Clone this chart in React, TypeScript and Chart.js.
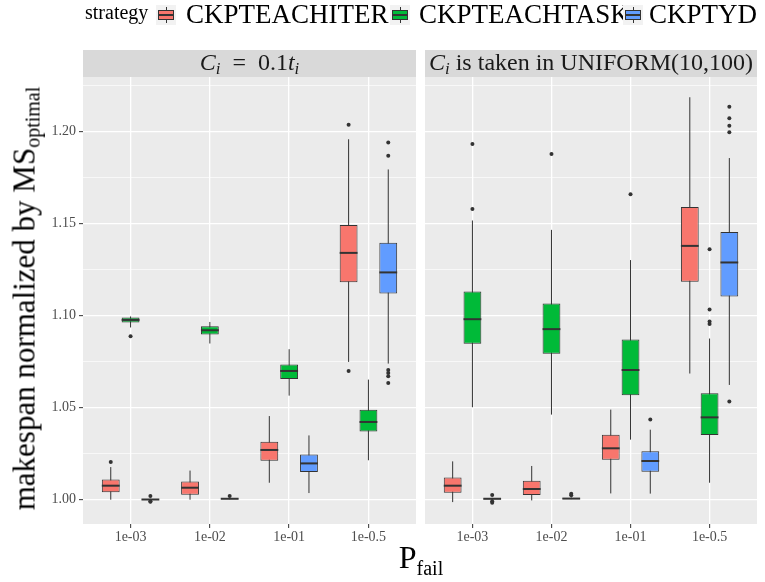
import React, { useEffect, useRef } from 'react';
import { Chart, registerables } from 'chart.js';

Chart.register(...registerables);

// ---------- data ----------
const CATEGORIES = ['1e-03', '1e-02', '1e-01', '1e-0.5'];
const STRATEGIES = ['CKPTEACHITER', 'CKPTEACHTASK', 'CKPTYD'];
const COLORS = ['#F8766D', '#00BA38', '#619CFF'];
const Y_TICKS = [1.0, 1.025, 1.05, 1.075, 1.1, 1.125, 1.15, 1.175, 1.2, 1.225];
const Y_MIN = 0.9868;
const Y_MAX = 1.2295;
const PANEL_TITLES = ['C_i = 0.1t_i', 'C_i is taken in UNIFORM(10,100)'];

// box stats per category: [lower whisker, Q1, median, Q3, upper whisker]
const A_ITER = [
  [1.0, 1.004, 1.0076, 1.0109, 1.0177],
  [1.0, 1.0027, 1.0065, 1.0099, 1.0158],
  [1.0092, 1.0212, 1.027, 1.0315, 1.0454],
  [1.0748, 1.1181, 1.134, 1.1492, 1.1957],
];
const A_TASK = [
  [1.0935, 1.0962, 1.0976, 1.0989, 1.0995],
  [1.0848, 1.0897, 1.092, 1.0942, 1.0965],
  [1.0565, 1.0655, 1.0699, 1.0734, 1.0817],
  [1.0214, 1.037, 1.0422, 1.0489, 1.0652],
];
const A_YD = [
  [0.9999, 1.0, 1.0001, 1.0003, 1.0005],
  [1.0002, 1.0003, 1.0005, 1.0007, 1.001],
  [1.0036, 1.015, 1.0197, 1.0246, 1.0349],
  [1.0739, 1.112, 1.1234, 1.1395, 1.1793],
];
const A_ITER_OUT = [[1.0204], [], [], [1.2036, 1.0699]];
const A_TASK_OUT = [[1.0888], [], [], []];
const A_YD_OUT = [[1.002, 0.9992, 0.9989], [1.002], [], [1.194, 1.1867, 1.0704, 1.0688, 1.067, 1.0634]];

const B_ITER = [
  [0.9987, 1.0038, 1.0076, 1.012, 1.0208],
  [0.9996, 1.0025, 1.0058, 1.0103, 1.0183],
  [1.0034, 1.0217, 1.0279, 1.0353, 1.0489],
  [1.0685, 1.1183, 1.1378, 1.1589, 1.2185],
];
const B_TASK = [
  [1.0502, 1.0846, 1.098, 1.113, 1.1516],
  [1.0462, 1.0793, 1.0926, 1.1065, 1.1465],
  [1.0326, 1.0567, 1.0704, 1.087, 1.1301],
  [1.0092, 1.0351, 1.0447, 1.0578, 1.0875],
];
const B_YD = [
  [0.9998, 1.0001, 1.0005, 1.0007, 1.001],
  [1.0003, 1.0004, 1.0006, 1.0008, 1.0012],
  [1.0033, 1.0152, 1.021, 1.0263, 1.038],
  [1.0623, 1.1103, 1.1288, 1.1453, 1.1855],
];
const B_ITER_OUT = [[], [], [], []];
const B_TASK_OUT = [[1.1931, 1.1578], [1.1877], [1.1659], [1.136, 1.1033, 1.0968, 1.0954]];
const B_YD_OUT = [[1.0025, 0.9984, 0.9992], [1.0032, 1.0024], [1.0436], [1.2134, 1.2071, 1.203, 1.1995, 1.0533]];

// ---------- helpers ----------
const FONT = "'Liberation Serif', 'Times New Roman', serif";
const isMajor = (v: number) => Math.round(v * 1000) % 50 === 0;

function buildDatasets(boxes: number[][][], outs: number[][][]) {
  return STRATEGIES.map((name, s) => ({
    label: name,
    data: boxes[s].map((b, i) => ({ x: i + 1, y: [b[1], b[3]], stats: b, out: outs[s][i] })),
    backgroundColor: COLORS[s],
    borderColor: '#333333',
    borderWidth: 1,
    borderSkipped: false,
    categoryPercentage: 0.75,
    barPercentage: 0.9,
  }));
}

const boxPlugin = {
  id: 'boxExtras',
  beforeDraw(chart: any) {
    const { ctx, chartArea: a } = chart;
    ctx.save();
    ctx.fillStyle = '#EBEBEB';
    ctx.fillRect(a.left, a.top, a.right - a.left, a.bottom - a.top);
    ctx.restore();
  },
  beforeDatasetsDraw(chart: any) {
    const { ctx } = chart;
    const ys = chart.scales.y;
    ctx.save();
    ctx.strokeStyle = '#333333';
    ctx.lineWidth = 1;
    chart.data.datasets.forEach((ds: any, i: number) => {
      const meta = chart.getDatasetMeta(i);
      meta.data.forEach((el: any, j: number) => {
        const st = ds.data[j].stats;
        ctx.beginPath();
        ctx.moveTo(el.x, ys.getPixelForValue(st[0]));
        ctx.lineTo(el.x, ys.getPixelForValue(st[4]));
        ctx.stroke();
      });
    });
    ctx.restore();
  },
  afterDatasetsDraw(chart: any) {
    const { ctx } = chart;
    const ys = chart.scales.y;
    ctx.save();
    chart.data.datasets.forEach((ds: any, i: number) => {
      const meta = chart.getDatasetMeta(i);
      meta.data.forEach((el: any, j: number) => {
        const st = ds.data[j].stats;
        const w = el.width;
        const ym = ys.getPixelForValue(st[2]);
        ctx.strokeStyle = '#333333';
        ctx.lineWidth = 2;
        ctx.beginPath();
        ctx.moveTo(el.x - w / 2, ym);
        ctx.lineTo(el.x + w / 2, ym);
        ctx.stroke();
        ctx.fillStyle = '#333333';
        (ds.data[j].out || []).forEach((o: number) => {
          ctx.beginPath();
          ctx.arc(el.x, ys.getPixelForValue(o), 2, 0, Math.PI * 2);
          ctx.fill();
        });
      });
    });
    ctx.restore();
  },
};

type PanelProps = {
  left: number;
  width: number;
  padLeft: number;
  padRight: number;
  yWidth: number;
  showY: boolean;
  boxes: number[][][];
  outs: number[][][];
};

function Panel({ left, width, padLeft, padRight, yWidth, showY, boxes, outs }: PanelProps) {
  const ref = useRef<HTMLCanvasElement>(null);
  useEffect(() => {
    if (!ref.current) return;
    const chart = new Chart(ref.current, {
      type: 'bar',
      data: { datasets: buildDatasets(boxes, outs) as any },
      options: {
        animation: false,
        responsive: false,
        events: [],
        devicePixelRatio: 1,
        layout: { padding: { top: 77, bottom: 28, left: padLeft, right: padRight } },
        plugins: { legend: { display: false }, tooltip: { enabled: false } },
        scales: {
          x: {
            type: 'linear',
            min: 0.4,
            max: 4.6,
            bounds: 'data',
            offset: false,
            afterBuildTicks: (s: any) => {
              s.ticks = CATEGORIES.map((_, i) => ({ value: i + 1 }));
            },
            afterFit: (s: any) => {
              s.height = 30;
            },
            ticks: {
              callback: (_v: any, i: number) => CATEGORIES[i],
              font: { family: FONT, size: 14 },
              color: '#4D4D4D',
              padding: 1,
              maxRotation: 0,
              autoSkip: false,
            },
            grid: {
              color: '#FFFFFF',
              lineWidth: 1.3,
              offset: false,
              drawTicks: true,
              tickLength: 4,
              tickColor: '#333333',
              tickWidth: 1,
            },
            border: { display: false },
          } as any,
          y: {
            type: 'linear',
            min: Y_MIN,
            max: Y_MAX,
            bounds: 'data',
            afterBuildTicks: (s: any) => {
              s.ticks = Y_TICKS.map((v) => ({ value: v }));
            },
            afterFit: (s: any) => {
              s.width = yWidth;
            },
            ticks: {
              display: showY,
              callback: (v: any) => (isMajor(Number(v)) ? Number(v).toFixed(2) : ''),
              font: { family: FONT, size: 14 },
              color: '#4D4D4D',
              padding: 3,
            },
            grid: {
              color: '#FFFFFF',
              lineWidth: (c: any) => (c.tick && isMajor(c.tick.value) ? 1.3 : 0.65),
              drawTicks: showY,
              tickLength: showY ? 4 : 0,
              tickColor: (c: any) => (c.tick && isMajor(c.tick.value) ? '#333333' : 'rgba(0,0,0,0)'),
              tickWidth: 1,
            },
            border: { display: false },
          } as any,
        },
      },
      plugins: [boxPlugin],
    } as any);
    return () => chart.destroy();
  }, []);
  return (
    <canvas
      ref={ref}
      width={width}
      height={582}
      style={{ position: 'absolute', left, top: 0, width, height: 582 }}
    />
  );
}

function LegendKey({ left, color }: { left: number; color: string }) {
  return (
    <div style={{ position: 'absolute', left, top: 5, width: 20, height: 20, background: '#F2F2F2' }}>
      <div style={{ position: 'absolute', left: 9.5, top: 2, width: 1, height: 16, background: '#333333' }} />
      <div
        style={{
          position: 'absolute',
          left: 2,
          top: 5,
          width: 16,
          height: 10,
          boxSizing: 'border-box',
          background: color,
          border: '1px solid #333333',
        }}
      />
      <div style={{ position: 'absolute', left: 2, top: 9, width: 16, height: 2, background: '#333333' }} />
    </div>
  );
}

const SUB: React.CSSProperties = { fontSize: 17, position: 'relative', top: 4, lineHeight: 0 };

function StripTitle({ text }: { text: string }) {
  if (text.startsWith('C_i = ')) {
    return (
      <span>
        <i>C</i>
        <span style={SUB}><i>i</i></span>
        {'\u2002=\u20020.1'}
        <i>t</i>
        <span style={SUB}><i>i</i></span>
      </span>
    );
  }
  return (
    <span>
      <i>C</i>
      <span style={SUB}><i>i</i></span>
      {text.replace('C_i', '')}
    </span>
  );
}

export default function App() {
  useEffect(() => {
    document.body.style.margin = '0';
  }, []);
  const strip = (left: number, width: number, text: string) => (
    <div
      style={{
        position: 'absolute',
        left,
        top: 50,
        width,
        height: 27,
        background: '#D9D9D9',
        color: '#1A1A1A',
        fontFamily: FONT,
        fontSize: 24,
        lineHeight: '25px',
        textAlign: 'center',
        whiteSpace: 'nowrap',
        overflow: 'visible',
      }}
    >
      <StripTitle text={text} />
    </div>
  );
  const legendText = (left: number, text: string) => (
    <div
      style={{
        position: 'absolute',
        left,
        top: 1,
        fontFamily: FONT,
        fontSize: 27,
        lineHeight: '27px',
        color: '#000000',
        whiteSpace: 'nowrap',
      }}
    >
      {text}
    </div>
  );
  return (
    <div style={{ position: 'relative', width: 765, height: 582, background: '#FFFFFF', overflow: 'hidden' }}>
      <Panel
        left={0}
        width={418}
        padLeft={0}
        padRight={2}
        yWidth={83}
        showY={true}
        boxes={[A_ITER, A_TASK, A_YD]}
        outs={[A_ITER_OUT, A_TASK_OUT, A_YD_OUT]}
      />
      <Panel
        left={418}
        width={347}
        padLeft={7}
        padRight={8}
        yWidth={0}
        showY={false}
        boxes={[B_ITER, B_TASK, B_YD]}
        outs={[B_ITER_OUT, B_TASK_OUT, B_YD_OUT]}
      />
      {strip(83, 333, PANEL_TITLES[0])}
      {strip(425, 332, PANEL_TITLES[1])}

      {/* legend */}
      <div
        style={{
          position: 'absolute',
          left: 85,
          top: 2,
          fontFamily: FONT,
          fontSize: 20,
          lineHeight: '20px',
          whiteSpace: 'nowrap',
        }}
      >
        strategy
      </div>
      {legendText(186, STRATEGIES[0])}
      {legendText(419, STRATEGIES[1])}
      {legendText(649, STRATEGIES[2])}
      <LegendKey left={156} color={COLORS[0]} />
      <LegendKey left={390} color={COLORS[1]} />
      <LegendKey left={623} color={COLORS[2]} />

      {/* y title */}
      <div
        style={{
          position: 'absolute',
          left: 24 - 280,
          top: 298 - 15.5,
          width: 560,
          height: 31,
          lineHeight: '31px',
          fontFamily: FONT,
          fontSize: 31,
          textAlign: 'center',
          whiteSpace: 'nowrap',
          transform: 'rotate(-90deg)',
          transformOrigin: 'center center',
        }}
      >
        makespan normalized by MS
        <span style={{ fontSize: 20, position: 'relative', top: 5, lineHeight: 0 }}>optimal</span>
      </div>

      {/* x title */}
      <div
        style={{
          position: 'absolute',
          left: 421 - 200,
          top: 541,
          width: 400,
          lineHeight: '32px',
          fontFamily: FONT,
          fontSize: 32,
          textAlign: 'center',
          whiteSpace: 'nowrap',
        }}
      >
        P<span style={{ fontSize: 20, position: 'relative', top: 7, lineHeight: 0 }}>fail</span>
      </div>
    </div>
  );
}
